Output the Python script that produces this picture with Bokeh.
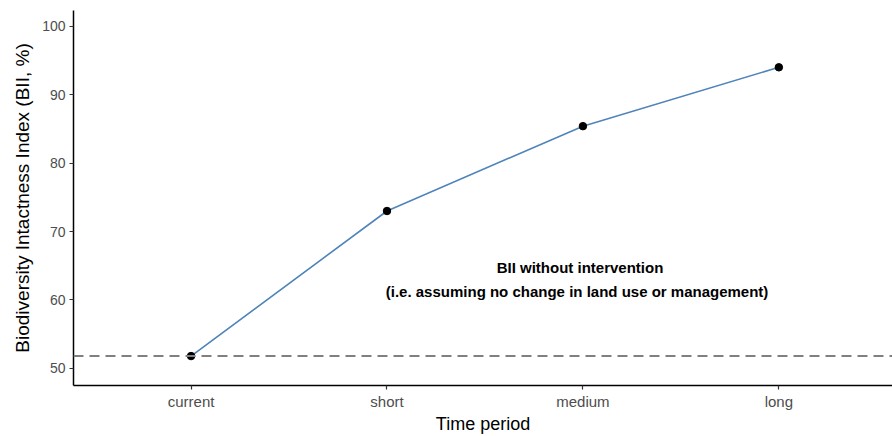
from bokeh.plotting import figure
from bokeh.models import Range1d, FixedTicker, ColumnDataSource, Span, Label
from bokeh.embed import file_html
from bokeh.resources import INLINE

categories = ["current", "short", "medium", "long"]
bii = [51.8, 73.0, 85.4, 94.0]
baseline = 51.8
y_ticks = [50, 60, 70, 80, 90, 100]
annotation = ["BII without intervention", "(i.e. assuming no change in land use or management)"]

x_pos = list(range(1, len(categories) + 1))
src = ColumnDataSource(dict(x=x_pos, y=bii, cat=categories))

p = figure(width=892, height=436, output_backend="svg", toolbar_location=None,
           x_range=Range1d(0.4, 4.58), y_range=Range1d(47.5, 102.3),
           min_border_left=73, min_border_right=0, min_border_top=10, min_border_bottom=50)
p.outline_line_color = None
p.grid.grid_line_color = None
p.background_fill_color = "white"

p.add_layout(Span(location=baseline, dimension="width", line_color="#808080",
                  line_width=2, line_dash="10 6"))
p.line("x", "y", source=src, line_color="#4F84BA", line_width=1.6)
p.scatter("x", "y", source=src, size=7.5, color="black")

p.add_layout(Label(x=2.985, y=64.7, text=annotation[0], text_align="center", text_baseline="middle",
                   text_font="Liberation Sans", text_font_style="bold", text_font_size="15px",
                   text_color="black"))
p.add_layout(Label(x=2.97, y=61.2, text=annotation[1], text_align="center", text_baseline="middle",
                   text_font="Liberation Sans", text_font_style="bold", text_font_size="15px",
                   text_color="black"))

p.xaxis.ticker = FixedTicker(ticks=x_pos)
p.xaxis.major_label_overrides = {i: c for i, c in zip(x_pos, categories)}
p.yaxis.ticker = FixedTicker(ticks=y_ticks)

for ax in (p.xaxis[0], p.yaxis[0]):
    ax.axis_line_color = "black"
    ax.axis_line_width = 1.5
    ax.major_tick_line_color = "#333333"
    ax.major_tick_line_width = 1.2
    ax.major_tick_out = 4
    ax.major_tick_in = 0
    ax.minor_tick_line_color = None
    ax.major_label_text_color = "#4D4D4D"
    ax.major_label_text_font = "Liberation Sans"
    ax.major_label_text_font_size = "14px"
    ax.axis_label_text_font = "Liberation Sans"
    ax.axis_label_text_font_style = "normal"
    ax.axis_label_text_color = "black"

p.xaxis.major_label_text_font_size = "15px"
p.xaxis.axis_label_text_font_size = "18px"
p.yaxis.axis_label_text_font_size = "19px"
p.xaxis.axis_label = "Time period"
p.yaxis.axis_label = "Biodiversity Intactness Index (BII, %)"
p.xaxis.major_label_standoff = 3
p.xaxis.axis_label_standoff = 1
p.yaxis.major_label_standoff = 4
p.yaxis.axis_label_standoff = 6

open("out.html", "w").write(file_html(p, INLINE))
